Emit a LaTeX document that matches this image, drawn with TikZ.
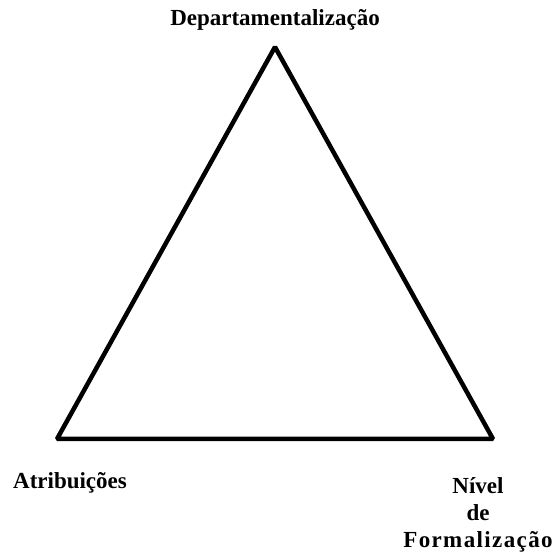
\documentclass[tikz,border=0pt]{standalone}
\usepackage{fontspec}
\setmainfont{Liberation Serif}
\begin{document}
\begin{tikzpicture}[
    x=1pt, y=1pt,
    line cap=round,
    line join=bevel,
    side/.style={draw=black, line width=4.5pt},
    lab/.style={font=\fontsize{23}{27}\selectfont\bfseries,
      inner sep=0pt, align=center}
]
  \useasboundingbox (0,0) rectangle (553,558);

  \coordinate (T) at (275,511);
  \coordinate (L) at (57,119);
  \coordinate (R) at (493,119);

  \draw[side] (T)--(R)--(L)--cycle;

  \node[lab] (dep) at (275,538) {Departamentalização};
  \node[lab] (atr) at (70,75) {Atribuições};
  \node[lab] (niv) at (478,43) {Nível\\de\\{\addfontfeature{LetterSpace=6}Formalização}};
\end{tikzpicture}
\end{document}
